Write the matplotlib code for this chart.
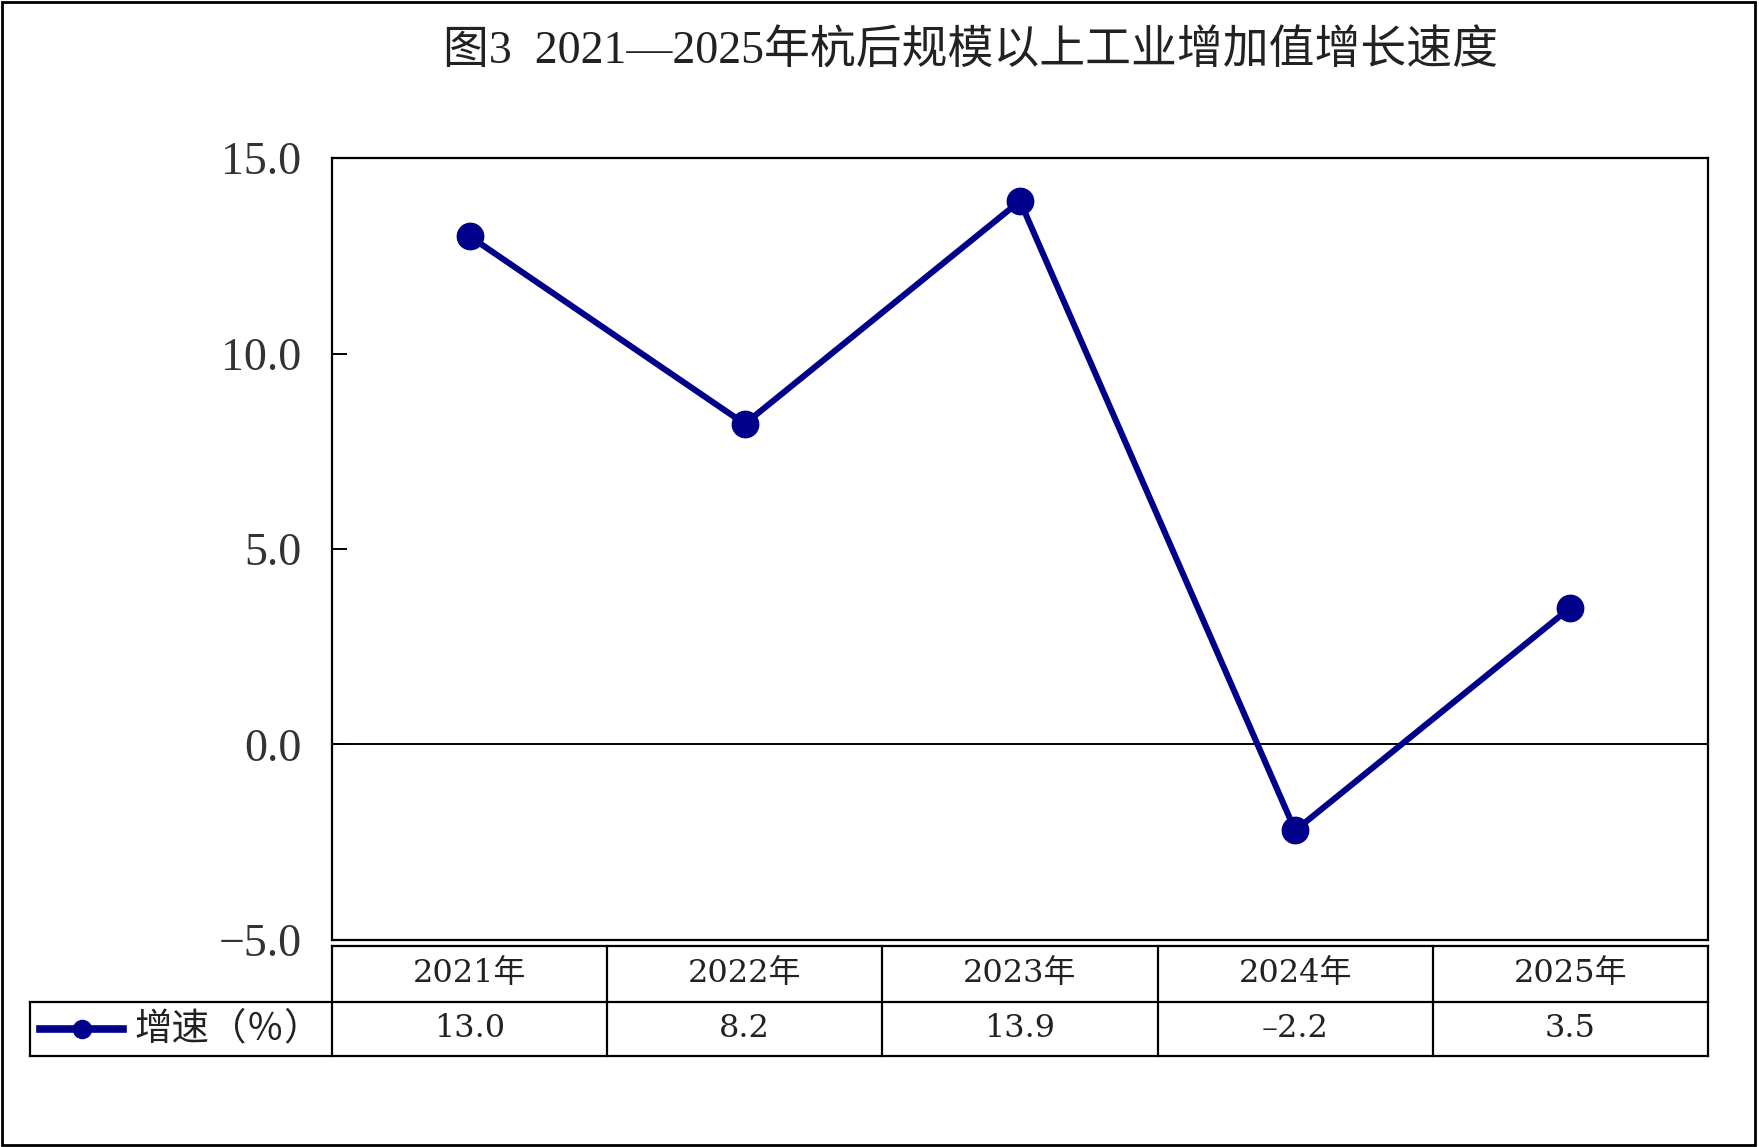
import matplotlib
matplotlib.use("Agg")
import matplotlib.pyplot as plt
from matplotlib.lines import Line2D
from matplotlib.patches import Rectangle

plt.rcParams['font.family'] = ['Liberation Serif', 'Noto Sans CJK SC']
plt.rcParams['axes.unicode_minus'] = True

# data
years = ['2021年', '2022年', '2023年', '2024年', '2025年']
growth = [13.0, 8.2, 13.9, -2.2, 3.5]
series_name = '增速（％）'
title = '图3  2021—2025年杭后规模以上工业增加值增长速度'
yticks = [-5.0, 0.0, 5.0, 10.0, 15.0]

LINE_COLOR = '#00008B'
TABLE_FONT = ['DejaVu Serif', 'Noto Sans CJK SC']

fig = plt.figure(figsize=(17.59, 11.47), dpi=100)
ax = fig.add_axes([0.1887, 0.1805, 0.7823, 0.6817])

x = list(range(len(years)))
ax.plot(x, growth, color=LINE_COLOR, lw=4.4, marker='o', markersize=19,
        zorder=3, clip_on=False)
ax.axhline(0, color='black', lw=1.4, zorder=2)

ax.set_xlim(-0.5, len(years) - 0.5)
ax.set_ylim(-5, 15)
ax.set_yticks(yticks)
ax.set_yticklabels([f'{v:.1f}'.replace('-', '\u2212') for v in yticks],
                   fontsize=33, color='#333333')
ax.tick_params(axis='y', direction='in', length=11, width=1.4, pad=22)
ax.set_xticks([])
for sp in ax.spines.values():
    sp.set_linewidth(1.6)

# data table under the axis
tr = ax.transAxes
y_head_top, y_mid, y_bot = -0.0077, -0.0793, -0.148
x_leg = -0.2195
lw = 1.6
ax.add_line(Line2D([0, 1], [y_head_top, y_head_top], transform=tr, color='black', lw=lw, clip_on=False))
ax.add_line(Line2D([x_leg, 1], [y_mid, y_mid], transform=tr, color='black', lw=lw, clip_on=False))
ax.add_line(Line2D([x_leg, 1], [y_bot, y_bot], transform=tr, color='black', lw=lw, clip_on=False))
ax.add_line(Line2D([x_leg, x_leg], [y_mid, y_bot], transform=tr, color='black', lw=lw, clip_on=False))
n = len(years)
for k in range(n + 1):
    ax.add_line(Line2D([k / n, k / n], [y_head_top, y_bot], transform=tr,
                       color='black', lw=lw, clip_on=False))

bt = ax.get_xaxis_transform()
for i, (yr, v) in enumerate(zip(years, growth)):
    ax.text(i, (y_head_top + y_mid) / 2, yr, transform=bt, ha='center', va='center',
            fontsize=23, family=TABLE_FONT, color='#222222')
    ax.text(i, (y_mid + y_bot) / 2, f'{v:.1f}'.replace('-', '\u2013'), transform=bt,
            ha='center', va='center', fontsize=23, family=TABLE_FONT, color='#222222')

# legend key inside the table
y_row = (y_mid + y_bot) / 2
ax.add_line(Line2D([-0.2122, -0.1519], [y_row, y_row], transform=tr, color=LINE_COLOR,
                   lw=5.5, clip_on=False))
ax.add_line(Line2D([-0.1817], [y_row], transform=tr, color=LINE_COLOR, marker='o',
                   markersize=13, clip_on=False))
ax.text(-0.1432, y_row, series_name, transform=tr, ha='left', va='center',
        fontsize=27, family=['Noto Sans CJK SC'], color='#222222')

fig.text(0.552, 0.955, title, ha='center', va='center', fontsize=33, color='#222222')

fig.patches.append(Rectangle((0.001, 0.002), 0.997, 0.996, transform=fig.transFigure,
                             fill=False, edgecolor='black', lw=2))

fig.savefig('out.png', dpi=100)
